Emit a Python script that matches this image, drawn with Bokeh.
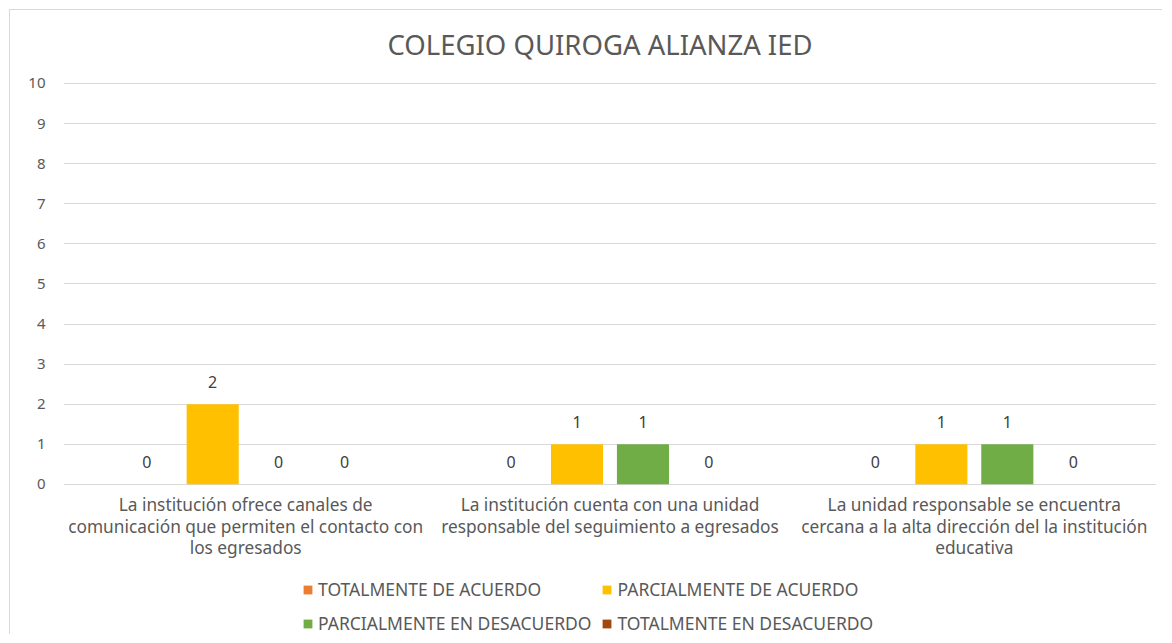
from bokeh.plotting import figure
from bokeh.models import ColumnDataSource, FixedTicker, LabelSet, Label, Legend, LegendItem, Range1d
from bokeh.core.properties import value
from bokeh.embed import file_html
from bokeh.resources import INLINE

title_text = "COLEGIO QUIROGA ALIANZA IED"
categories = [
    ["La institución ofrece canales de", "comunicación que permiten el contacto con", "los egresados"],
    ["La institución cuenta con una unidad", "responsable del seguimiento a egresados"],
    ["La unidad responsable se encuentra", "cercana a la alta dirección del la institución", "educativa"],
]
series_names = ["TOTALMENTE DE ACUERDO", "PARCIALMENTE DE ACUERDO",
                "PARCIALMENTE EN DESACUERDO", "TOTALMENTE EN DESACUERDO"]
totalmente_acuerdo = [0, 0, 0]
parcialmente_acuerdo = [2, 1, 1]
parcialmente_desacuerdo = [0, 1, 1]
totalmente_desacuerdo = [0, 0, 0]
colors = ["#ED7D31", "#FFC000", "#70AD47", "#9E480E"]
y_ticks = list(range(0, 11))

series_values = [totalmente_acuerdo, parcialmente_acuerdo, parcialmente_desacuerdo, totalmente_desacuerdo]

FONT = "Noto Sans"
TXT = "#595959"

# frame spans the whole height; only 0..10 is ticked and gridded
p = figure(width=1153, height=625, output_backend="svg", toolbar_location=None,
           x_range=Range1d(0, 3), y_range=Range1d(-3.77, 11.82),
           min_border_left=53, min_border_right=7, min_border_top=0, min_border_bottom=0)
p.styles = {"border-left": "1px solid #d9d9d9", "border-top": "1px solid #d9d9d9",
            "margin-left": "9px", "margin-top": "9px"}
p.outline_line_color = None
p.background_fill_color = "white"
p.border_fill_color = "white"

spacing = 0.181
width = 0.143
offsets = [-1.5 * spacing, -0.5 * spacing, 0.5 * spacing, 1.5 * spacing]
centers = [i + 0.5 for i in range(len(categories))]

title = Label(x=1.5, y=max(y_ticks), text=title_text, x_offset=-10, y_offset=39,
              text_align="center", text_baseline="middle",
              text_font=FONT, text_font_size="27.5px", text_color=TXT)
p.add_layout(title)

items = []
for name, vals, col, off in zip(series_names, series_values, colors, offsets):
    src = ColumnDataSource(dict(x=[c + off for c in centers], top=vals,
                                lbl=[str(v) for v in vals]))
    r = p.vbar(x="x", top="top", width=width, bottom=0, source=src,
               fill_color=col, line_color=None)
    items.append(LegendItem(label=name, renderers=[r]))
    ls = LabelSet(x="x", y="top", text="lbl", source=src, y_offset=16,
                  text_align="center", text_baseline="bottom",
                  text_font=value(FONT), text_font_size="16px", text_color="#404040")
    p.add_layout(ls)

# category labels, one centered line per row
lx, ly, lt, loff = [], [], [], []
for c, lines in zip(centers, categories):
    for i, line in enumerate(lines):
        lx.append(c)
        ly.append(0)
        lt.append(line)
        loff.append(-(20 + 21.7 * i))
cat_src = ColumnDataSource(dict(x=lx, y=ly, text=lt, yo=loff))
cat_labels = LabelSet(x="x", y="y", text="text", source=cat_src, y_offset="yo",
                      text_align="center", text_baseline="middle",
                      text_font=value(FONT), text_font_size="17.3px", text_color=TXT)
p.add_layout(cat_labels)

p.yaxis.ticker = FixedTicker(ticks=y_ticks)
p.yaxis.axis_line_color = None
p.yaxis.major_tick_line_color = None
p.yaxis.minor_tick_line_color = None
p.yaxis.major_label_standoff = 12
p.yaxis.major_label_text_font = FONT
p.yaxis.major_label_text_font_size = "15px"
p.yaxis.major_label_text_color = TXT

p.xaxis.visible = False
p.xgrid.grid_line_color = None
p.ygrid.grid_line_color = "#d9d9d9"

legend = Legend(items=items, ncols=2, orientation="horizontal",
                label_text_font=FONT, label_text_font_size="17.5px",
                label_text_color=TXT, glyph_width=11, glyph_height=11,
                label_standoff=5, spacing=10, padding=0, margin=0,
                border_line_color=None, background_fill_alpha=0,
                location=(239, 0))
p.add_layout(legend, "center")

open("out.html", "w").write(file_html(p, INLINE))
